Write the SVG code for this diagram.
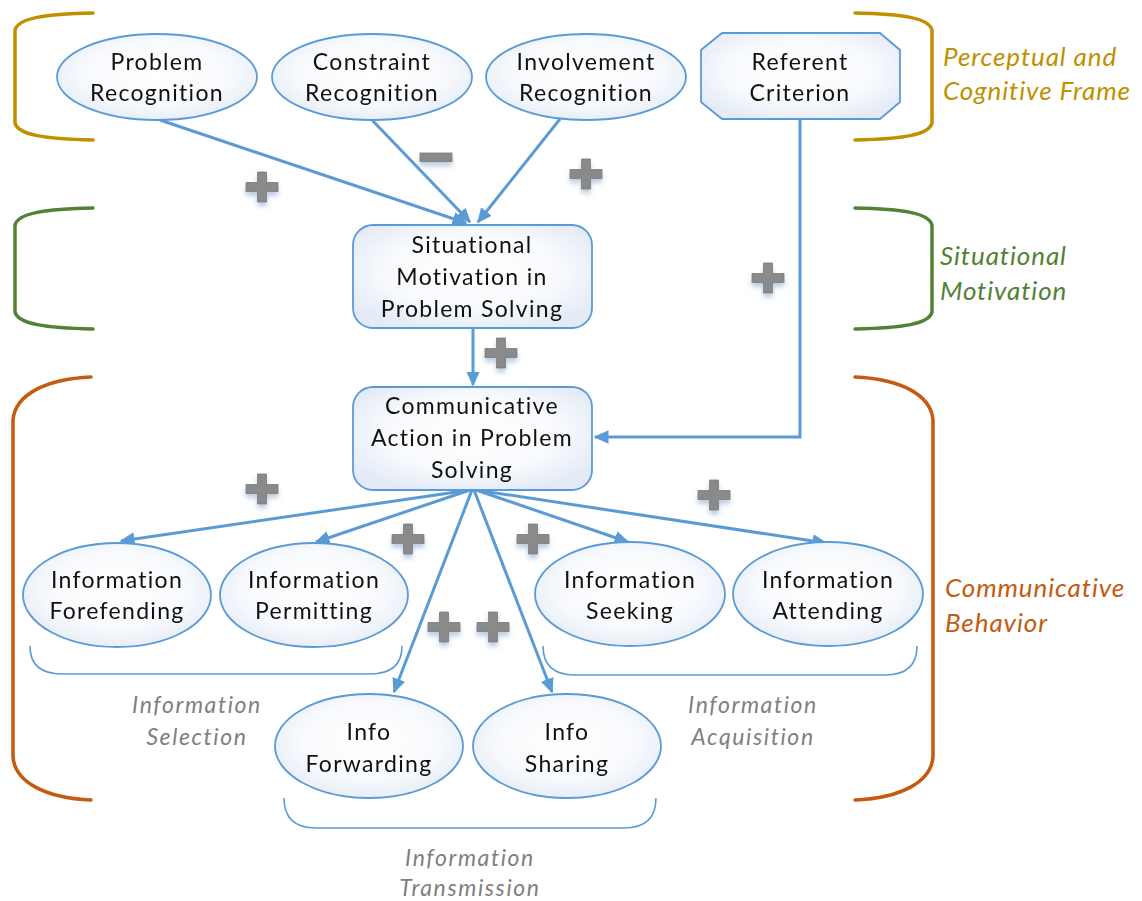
<svg xmlns="http://www.w3.org/2000/svg" width="1142" height="901" viewBox="0 0 1142 901">
  <defs>
    <radialGradient id="nodeFill" cx="50%" cy="45%" r="60%">
      <stop offset="0" stop-color="#ffffff"/>
      <stop offset="0.6" stop-color="#f8fafd"/>
      <stop offset="1" stop-color="#e4ebf6"/>
    </radialGradient>
    <marker id="arrow" viewBox="0 0 10 10" refX="9" refY="5" markerWidth="5" markerHeight="5" orient="auto" markerUnits="strokeWidth">
      <path d="M0,0.5 L10,5 L0,9.5 z" fill="#5b9bd5"/>
    </marker>
    <filter id="glow" x="-50%" y="-50%" width="200%" height="220%">
      <feGaussianBlur in="SourceAlpha" stdDeviation="2.5" result="b"/>
      <feOffset in="b" dx="0" dy="4" result="o"/>
      <feFlood flood-color="#9db6d6" flood-opacity="0.7"/>
      <feComposite in2="o" operator="in" result="s"/>
      <feMerge>
        <feMergeNode in="s"/>
        <feMergeNode in="SourceGraphic"/>
      </feMerge>
    </filter>
    <g id="plus">
      <path d="M-16,-4.5 H-4.5 V-15 H4.5 V-4.5 H16 V4.5 H4.5 V15 H-4.5 V4.5 H-16 Z" fill="#8a8a8a" stroke="#7a7a7a" stroke-width="0.8"/>
    </g>
  </defs>
  <style>
    .node { fill: url(#nodeFill); stroke: #5b9bd5; stroke-width: 1.8; }
    .lbl { font-family: Lato, "Liberation Sans", sans-serif; font-size: 23px; fill: #111111; text-anchor: middle; letter-spacing: 1.3px; }
    .edge { fill: none; stroke: #5b9bd5; stroke-width: 3; marker-end: url(#arrow); }
    .brace { fill: none; stroke-width: 3.5; stroke-linecap: round; }
    .sub { fill: none; stroke: #5b9bd5; stroke-width: 1.6; }
    .side { font-family: Lato, "Liberation Sans", sans-serif; font-style: italic; font-size: 26px; letter-spacing: 0.9px; }
    .grp { font-family: Lato, "Liberation Sans", sans-serif; font-style: italic; font-size: 23px; fill: #7f7f7f; text-anchor: middle; letter-spacing: 1.6px; }
  </style>

  <rect width="1142" height="901" fill="#ffffff"/>

  <!-- section brackets -->
  <g id="brackets">
    <path class="brace" stroke="#c09000" d="M93,13 C45,14 18,18 15,30 L15,123 C18,135 45,139 93,140"/>
    <path class="brace" stroke="#c09000" d="M855,13 C903,14 929,18 932,30 L932,123 C929,135 903,139 855,140"/>
    <path class="brace" stroke="#538135" d="M93,208 C45,209 18,213 15,225 L15,312 C18,324 45,328 93,329"/>
    <path class="brace" stroke="#538135" d="M855,208 C903,209 929,213 932,225 L932,312 C929,324 903,328 855,329"/>
    <path class="brace" stroke="#c55a11" d="M91,377 C45,379 15,395 13,420 L13,757 C15,782 45,798 91,800"/>
    <path class="brace" stroke="#c55a11" d="M855,377 C901,379 931,395 933,420 L933,757 C931,782 901,798 855,800"/>
  </g>

  <!-- side labels -->
  <g id="side-labels">
    <text class="side" fill="#bf9000" x="943" y="66">Perceptual and</text>
    <text class="side" fill="#bf9000" x="943" y="100">Cognitive Frame</text>
    <text class="side" fill="#538135" x="940" y="265">Situational</text>
    <text class="side" fill="#538135" x="940" y="300">Motivation</text>
    <text class="side" fill="#c55a11" x="945" y="597">Communicative</text>
    <text class="side" fill="#c55a11" x="945" y="632">Behavior</text>
  </g>

  <!-- group braces under the behaviour nodes -->
  <g id="group-braces">
    <path class="sub" d="M30,646 Q30,674 62,674 L370,674 Q402,674 402,646"/>
    <path class="sub" d="M543,646 Q543,675 575,675 L885,675 Q917,675 917,646"/>
    <path class="sub" d="M284,798 Q284,828 316,828 L624,828 Q656,828 656,798"/>
    <text class="grp" x="197" y="713">Information</text>
    <text class="grp" x="197" y="745">Selection</text>
    <text class="grp" x="753" y="713">Information</text>
    <text class="grp" x="753" y="745">Acquisition</text>
    <text class="grp" x="470" y="866">Information</text>
    <text class="grp" x="470" y="896">Transmission</text>
  </g>

  <!-- connectors -->
  <g id="connectors">
    <path class="edge" d="M160,120 L466,223"/>
    <path class="edge" d="M372,120 L470,222"/>
    <path class="edge" d="M560,119 L478,222"/>
    <path class="edge" d="M473,328 L473,385"/>
    <path class="edge" d="M800,119 L800,437 L595,437"/>
    <path class="edge" d="M470,490 L121,541"/>
    <path class="edge" d="M470,490 L316,542"/>
    <path class="edge" d="M472,490 L394,692"/>
    <path class="edge" d="M474,490 L552,692"/>
    <path class="edge" d="M476,490 L628,542"/>
    <path class="edge" d="M476,490 L826,543"/>
  </g>

  <!-- signs on the links -->
  <g id="signs" filter="url(#glow)">
    <use href="#plus" x="262" y="187"/>
    <rect x="420" y="153" width="32" height="8.5" fill="#8a8a8a" stroke="#7a7a7a" stroke-width="0.8"/>
    <use href="#plus" x="586" y="174"/>
    <use href="#plus" x="768" y="278"/>
    <use href="#plus" x="501" y="353"/>
    <use href="#plus" x="262" y="489"/>
    <use href="#plus" x="408" y="539"/>
    <use href="#plus" x="533" y="539"/>
    <use href="#plus" x="714" y="495"/>
    <use href="#plus" x="444" y="627"/>
    <use href="#plus" x="493" y="627"/>
  </g>

  <!-- nodes -->
  <g id="problem-recognition">
    <ellipse class="node" cx="157" cy="77" rx="100" ry="43"/>
    <text class="lbl" x="157" y="70">Problem</text>
    <text class="lbl" x="157" y="101">Recognition</text>
  </g>
  <g id="constraint-recognition">
    <ellipse class="node" cx="372" cy="77" rx="100" ry="43"/>
    <text class="lbl" x="372" y="70">Constraint</text>
    <text class="lbl" x="372" y="101">Recognition</text>
  </g>
  <g id="involvement-recognition">
    <ellipse class="node" cx="586" cy="77" rx="100" ry="43"/>
    <text class="lbl" x="586" y="70">Involvement</text>
    <text class="lbl" x="586" y="101">Recognition</text>
  </g>
  <g id="referent-criterion">
    <polygon class="node" points="722,33 880,33 900,50 900,102 880,119 722,119 701,102 701,50"/>
    <text class="lbl" x="800" y="70">Referent</text>
    <text class="lbl" x="800" y="101">Criterion</text>
  </g>
  <g id="situational-motivation">
    <rect class="node" x="353" y="225" width="239" height="103" rx="20"/>
    <text class="lbl" x="472" y="253">Situational</text>
    <text class="lbl" x="472" y="285">Motivation in</text>
    <text class="lbl" x="472" y="317">Problem Solving</text>
  </g>
  <g id="communicative-action">
    <rect class="node" x="353" y="387" width="239" height="103" rx="20"/>
    <text class="lbl" x="472" y="414">Communicative</text>
    <text class="lbl" x="472" y="446">Action in Problem</text>
    <text class="lbl" x="472" y="478">Solving</text>
  </g>
  <g id="information-forefending">
    <ellipse class="node" cx="117" cy="595" rx="94" ry="52"/>
    <text class="lbl" x="117" y="588">Information</text>
    <text class="lbl" x="117" y="619">Forefending</text>
  </g>
  <g id="information-permitting">
    <ellipse class="node" cx="314" cy="595" rx="94" ry="52"/>
    <text class="lbl" x="314" y="588">Information</text>
    <text class="lbl" x="314" y="619">Permitting</text>
  </g>
  <g id="information-seeking">
    <ellipse class="node" cx="630" cy="594" rx="95" ry="52"/>
    <text class="lbl" x="630" y="588">Information</text>
    <text class="lbl" x="630" y="619">Seeking</text>
  </g>
  <g id="information-attending">
    <ellipse class="node" cx="828" cy="594" rx="95" ry="52"/>
    <text class="lbl" x="828" y="588">Information</text>
    <text class="lbl" x="828" y="619">Attending</text>
  </g>
  <g id="info-forwarding">
    <ellipse class="node" cx="369" cy="746" rx="94" ry="52"/>
    <text class="lbl" x="369" y="740">Info</text>
    <text class="lbl" x="369" y="772">Forwarding</text>
  </g>
  <g id="info-sharing">
    <ellipse class="node" cx="567" cy="746" rx="94" ry="52"/>
    <text class="lbl" x="567" y="740">Info</text>
    <text class="lbl" x="567" y="772">Sharing</text>
  </g>
</svg>
